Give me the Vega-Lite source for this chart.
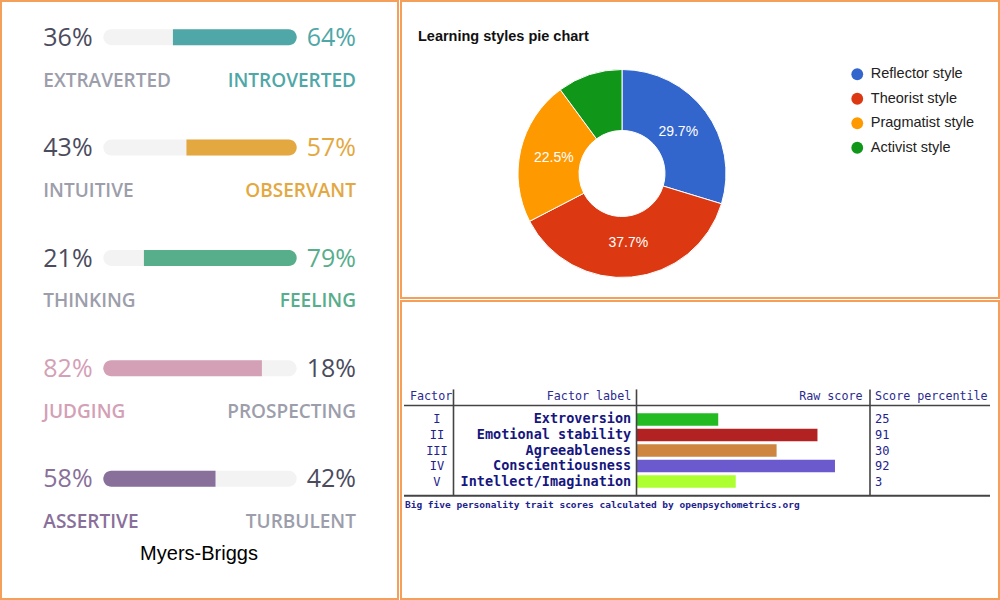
{
  "$schema": "https://vega.github.io/schema/vega-lite/v6.json",
  "padding": 0,
  "background": "white",
  "spacing": 1,
  "resolve": {"scale": {"color": "independent"}},
  "config": {
    "view": {"stroke": "#f5a05a", "strokeWidth": 2},
    "font": "Liberation Sans"
  },
  "hconcat": [
    {
      "width": 397,
      "height": 598,
      "data": {
        "values": [
          {"aspect": "Mind", "left": "EXTRAVERTED", "right": "INTROVERTED", "leftShare": 0.36, "rightShare": 0.64, "winner": "INTROVERTED"},
          {"aspect": "Energy", "left": "INTUITIVE", "right": "OBSERVANT", "leftShare": 0.43, "rightShare": 0.57, "winner": "OBSERVANT"},
          {"aspect": "Nature", "left": "THINKING", "right": "FEELING", "leftShare": 0.21, "rightShare": 0.79, "winner": "FEELING"},
          {"aspect": "Tactics", "left": "JUDGING", "right": "PROSPECTING", "leftShare": 0.82, "rightShare": 0.18, "winner": "JUDGING"},
          {"aspect": "Identity", "left": "ASSERTIVE", "right": "TURBULENT", "leftShare": 0.58, "rightShare": 0.42, "winner": "ASSERTIVE"}
        ]
      },
      "encoding": {
        "y": {
          "field": "aspect",
          "type": "nominal",
          "scale": {"type": "point", "domain": ["Mind", "Energy", "Nature", "Tactics", "Identity"], "range": [36.2, 477.7], "padding": 0},
          "axis": null
        }
      },
      "layer": [
        {
          "mark": {"type": "rule", "strokeWidth": 16, "strokeCap": "round", "color": "#f3f3f3"},
          "encoding": {
            "x": {"datum": 0.0414, "type": "quantitative", "scale": {"domain": [-0.529, 1.5238], "nice": false, "zero": false}, "axis": null},
            "x2": {"datum": 0.9586}
          }
        },
        {
          "transform": [{"filter": "datum.winner === datum.right"}],
          "mark": {"type": "bar", "height": 16, "cornerRadiusTopRight": 8, "cornerRadiusBottomRight": 8},
          "encoding": {
            "x": {"field": "leftShare", "type": "quantitative", "stack": null},
            "x2": {"datum": 1},
            "color": {"field": "winner", "type": "nominal", "scale": {"domain": ["INTROVERTED", "OBSERVANT", "FEELING", "JUDGING", "ASSERTIVE"], "range": ["#4fa7a8", "#e3a83f", "#57ae8b", "#d3a0b6", "#89709a"]}, "legend": null}
          }
        },
        {
          "transform": [{"filter": "datum.winner === datum.left"}],
          "mark": {"type": "bar", "height": 16, "cornerRadiusTopLeft": 8, "cornerRadiusBottomLeft": 8},
          "encoding": {
            "x": {"field": "leftShare", "type": "quantitative", "stack": null},
            "x2": {"datum": 0},
            "color": {"field": "winner", "type": "nominal", "legend": null}
          }
        },
        {
          "transform": [{"filter": "datum.winner === datum.left"}],
          "mark": {"type": "text", "align": "left", "baseline": "alphabetic", "dy": 8.7, "font": "Open Sans", "fontSize": 25},
          "encoding": {
            "x": {"datum": -0.3102, "type": "quantitative"},
            "text": {"field": "leftShare", "type": "quantitative", "format": ".0%"},
            "color": {"field": "winner", "type": "nominal", "legend": null}
          }
        },
        {
          "transform": [{"filter": "datum.winner !== datum.left"}],
          "mark": {"type": "text", "align": "left", "baseline": "alphabetic", "dy": 8.7, "font": "Open Sans", "fontSize": 25, "color": "#4b4b5e"},
          "encoding": {
            "x": {"datum": -0.3102, "type": "quantitative"},
            "text": {"field": "leftShare", "type": "quantitative", "format": ".0%"}
          }
        },
        {
          "transform": [{"filter": "datum.winner === datum.right"}],
          "mark": {"type": "text", "align": "right", "baseline": "alphabetic", "dy": 8.7, "font": "Open Sans", "fontSize": 25},
          "encoding": {
            "x": {"datum": 1.3066, "type": "quantitative"},
            "text": {"field": "rightShare", "type": "quantitative", "format": ".0%"},
            "color": {"field": "winner", "type": "nominal", "legend": null}
          }
        },
        {
          "transform": [{"filter": "datum.winner !== datum.right"}],
          "mark": {"type": "text", "align": "right", "baseline": "alphabetic", "dy": 8.7, "font": "Open Sans", "fontSize": 25, "color": "#4b4b5e"},
          "encoding": {
            "x": {"datum": 1.3066, "type": "quantitative"},
            "text": {"field": "rightShare", "type": "quantitative", "format": ".0%"}
          }
        },
        {
          "transform": [{"filter": "datum.winner === datum.left"}],
          "mark": {"type": "text", "align": "left", "baseline": "alphabetic", "dy": 49.5, "font": "Open Sans", "fontSize": 19, "fontWeight": 600},
          "encoding": {
            "x": {"datum": -0.3102, "type": "quantitative"},
            "text": {"field": "left", "type": "nominal"},
            "color": {"field": "winner", "type": "nominal", "legend": null}
          }
        },
        {
          "transform": [{"filter": "datum.winner !== datum.left"}],
          "mark": {"type": "text", "align": "left", "baseline": "alphabetic", "dy": 49.5, "font": "Open Sans", "fontSize": 19, "fontWeight": 600, "color": "#9c9eab"},
          "encoding": {
            "x": {"datum": -0.3102, "type": "quantitative"},
            "text": {"field": "left", "type": "nominal"}
          }
        },
        {
          "transform": [{"filter": "datum.winner === datum.right"}],
          "mark": {"type": "text", "align": "right", "baseline": "alphabetic", "dy": 49.5, "font": "Open Sans", "fontSize": 19, "fontWeight": 600},
          "encoding": {
            "x": {"datum": 1.3066, "type": "quantitative"},
            "text": {"field": "right", "type": "nominal"},
            "color": {"field": "winner", "type": "nominal", "legend": null}
          }
        },
        {
          "transform": [{"filter": "datum.winner !== datum.right"}],
          "mark": {"type": "text", "align": "right", "baseline": "alphabetic", "dy": 49.5, "font": "Open Sans", "fontSize": 19, "fontWeight": 600, "color": "#9c9eab"},
          "encoding": {
            "x": {"datum": 1.3066, "type": "quantitative"},
            "text": {"field": "right", "type": "nominal"}
          }
        },
        {
          "data": {"values": [{"caption": "Myers-Briggs", "aspect": "Identity"}]},
          "mark": {"type": "text", "align": "center", "baseline": "alphabetic", "dy": 81.3, "font": "Liberation Sans", "fontSize": 20, "color": "#000000"},
          "encoding": {
            "x": {"datum": 0.4948, "type": "quantitative"},
            "text": {"field": "caption", "type": "nominal"}
          }
        }
      ]
    },
    {
      "spacing": 1,
      "resolve": {"scale": {"color": "independent"}},
      "vconcat": [
        {
          "width": 598,
          "height": 297,
          "data": {
            "values": [
              {"style": "Reflector style", "share": 0.297, "slice": 1},
              {"style": "Theorist style", "share": 0.377, "slice": 2},
              {"style": "Pragmatist style", "share": 0.225, "slice": 3},
              {"style": "Activist style", "share": 0.101, "slice": 4}
            ]
          },
          "layer": [
            {
              "mark": {"type": "arc", "innerRadius": 43, "outerRadius": 104, "stroke": "white", "strokeWidth": 1, "xOffset": -78, "yOffset": 24},
              "encoding": {
                "theta": {"field": "share", "type": "quantitative", "stack": true},
                "order": {"field": "slice", "type": "quantitative"},
                "color": {
                  "field": "style",
                  "type": "nominal",
                  "scale": {"domain": ["Reflector style", "Theorist style", "Pragmatist style", "Activist style"], "range": ["#3366cc", "#dc3912", "#ff9900", "#109618"]},
                  "legend": {"orient": "none", "legendX": 449, "legendY": 66, "title": null, "symbolType": "circle", "symbolSize": 140, "symbolStrokeWidth": 0, "symbolOpacity": 1, "labelFontSize": 14.5, "labelFont": "Liberation Sans", "labelColor": "#222222", "rowPadding": 9.5, "labelOffset": 6.3, "padding": 0}
                }
              }
            },
            {
              "mark": {"type": "text", "radius": 70, "xOffset": -78, "yOffset": 24, "fontSize": 14, "font": "Liberation Sans", "color": "white", "baseline": "middle"},
              "encoding": {
                "theta": {"field": "share", "type": "quantitative", "stack": true},
                "order": {"field": "slice", "type": "quantitative"},
                "text": {"field": "share", "type": "quantitative", "format": ".1%"},
                "opacity": {"condition": {"test": "datum.share < 0.15", "value": 0}, "value": 1}
              }
            },
            {
              "data": {"values": [{"title": "Learning styles pie chart"}]},
              "mark": {"type": "text", "align": "left", "baseline": "alphabetic", "fontSize": 14.5, "fontWeight": "bold", "font": "Liberation Sans", "color": "#111111"},
              "encoding": {
                "x": {"datum": 0.0284, "type": "quantitative", "scale": {"domain": [0, 1], "nice": false, "zero": false}, "axis": null},
                "y": {"datum": 0.1347, "type": "quantitative", "scale": {"domain": [0, 1], "reverse": true, "nice": false, "zero": false}, "axis": null},
                "text": {"field": "title", "type": "nominal"}
              }
            }
          ]
        },
        {
          "width": 598,
          "height": 298,
          "data": {
            "values": [
              {"factor": "I", "n": 1, "label": "Extroversion", "raw": 14, "percentile": 25},
              {"factor": "II", "n": 2, "label": "Emotional stability", "raw": 31, "percentile": 91},
              {"factor": "III", "n": 3, "label": "Agreeableness", "raw": 24, "percentile": 30},
              {"factor": "IV", "n": 4, "label": "Conscientiousness", "raw": 34, "percentile": 92},
              {"factor": "V", "n": 5, "label": "Intellect/Imagination", "raw": 17, "percentile": 3}
            ]
          },
          "layer": [
            {
              "mark": {"type": "bar", "orient": "horizontal", "height": 12.5},
              "encoding": {
                "x": {"field": "raw", "type": "quantitative", "stack": null, "scale": {"domain": [-40.343, 62.099], "nice": false, "zero": false}, "axis": null},
                "x2": {"datum": 0},
                "y": {"field": "n", "type": "quantitative", "scale": {"domain": [-6.3056, 12.238], "reverse": true, "nice": false, "zero": false}, "axis": null},
                "color": {"field": "label", "type": "nominal", "scale": {"domain": ["Extroversion", "Emotional stability", "Agreeableness", "Conscientiousness", "Intellect/Imagination"], "range": ["#22bb22", "#b22222", "#cd853f", "#6a5acd", "#adff2f"]}, "legend": null}
              }
            },
            {
              "mark": {"type": "text", "align": "center", "baseline": "middle", "font": "DejaVu Sans Mono", "fontSize": 12, "color": "#22228c"},
              "encoding": {
                "x": {"datum": -34.18, "type": "quantitative"},
                "y": {"field": "n", "type": "quantitative"},
                "text": {"field": "factor", "type": "nominal"}
              }
            },
            {
              "mark": {"type": "text", "align": "right", "baseline": "middle", "font": "DejaVu Sans Mono", "fontSize": 13.5, "fontWeight": "bold", "color": "#16167e"},
              "encoding": {
                "x": {"datum": -0.9, "type": "quantitative"},
                "y": {"field": "n", "type": "quantitative"},
                "text": {"field": "label", "type": "nominal"}
              }
            },
            {
              "mark": {"type": "text", "align": "left", "baseline": "middle", "font": "DejaVu Sans Mono", "fontSize": 12, "color": "#22228c"},
              "encoding": {
                "x": {"datum": 40.86, "type": "quantitative"},
                "y": {"field": "n", "type": "quantitative"},
                "text": {"field": "percentile", "type": "quantitative"}
              }
            },
            {
              "data": {"values": [{"h": "Factor"}]},
              "mark": {"type": "text", "align": "left", "baseline": "middle", "font": "DejaVu Sans Mono", "fontSize": 11.7, "color": "#2a2a90"},
              "encoding": {"x": {"datum": -38.8, "type": "quantitative"}, "y": {"datum": -0.5, "type": "quantitative"}, "text": {"field": "h", "type": "nominal"}}
            },
            {
              "data": {"values": [{"h": "Factor label"}]},
              "mark": {"type": "text", "align": "right", "baseline": "middle", "font": "DejaVu Sans Mono", "fontSize": 11.7, "color": "#2a2a90"},
              "encoding": {"x": {"datum": -0.9, "type": "quantitative"}, "y": {"datum": -0.5, "type": "quantitative"}, "text": {"field": "h", "type": "nominal"}}
            },
            {
              "data": {"values": [{"h": "Raw score"}]},
              "mark": {"type": "text", "align": "right", "baseline": "middle", "font": "DejaVu Sans Mono", "fontSize": 11.7, "color": "#2a2a90"},
              "encoding": {"x": {"datum": 38.72, "type": "quantitative"}, "y": {"datum": -0.5, "type": "quantitative"}, "text": {"field": "h", "type": "nominal"}}
            },
            {
              "data": {"values": [{"h": "Score percentile"}]},
              "mark": {"type": "text", "align": "left", "baseline": "middle", "font": "DejaVu Sans Mono", "fontSize": 11.7, "color": "#2a2a90"},
              "encoding": {"x": {"datum": 40.86, "type": "quantitative"}, "y": {"datum": -0.5, "type": "quantitative"}, "text": {"field": "h", "type": "nominal"}}
            },
            {
              "data": {"values": [{"note": "Big five personality trait scores calculated by openpsychometrics.org"}]},
              "mark": {"type": "text", "align": "left", "baseline": "middle", "font": "DejaVu Sans Mono", "fontSize": 9.5, "fontWeight": "bold", "color": "#22228c"},
              "encoding": {"x": {"datum": -39.66, "type": "quantitative"}, "y": {"datum": 6.495, "type": "quantitative"}, "text": {"field": "note", "type": "nominal"}}
            },
            {
              "data": {"values": [{"line": "header"}]},
              "mark": {"type": "rule", "color": "#444444", "strokeWidth": 1.6},
              "encoding": {"x": {"datum": -39.83, "type": "quantitative"}, "x2": {"datum": 60.56}, "y": {"datum": 0.104, "type": "quantitative"}}
            },
            {
              "data": {"values": [{"line": "footer"}]},
              "mark": {"type": "rule", "color": "#444444", "strokeWidth": 2},
              "encoding": {"x": {"datum": -39.83, "type": "quantitative"}, "x2": {"datum": 60.56}, "y": {"datum": 5.91, "type": "quantitative"}}
            },
            {
              "data": {"values": [{"line": "after factor"}]},
              "mark": {"type": "rule", "color": "#444444", "strokeWidth": 1.6},
              "encoding": {"x": {"datum": -31.35, "type": "quantitative"}, "y": {"datum": -0.935, "type": "quantitative"}, "y2": {"datum": 5.91}}
            },
            {
              "data": {"values": [{"line": "after label"}]},
              "mark": {"type": "rule", "color": "#444444", "strokeWidth": 1.6},
              "encoding": {"x": {"datum": 0, "type": "quantitative"}, "y": {"datum": -0.935, "type": "quantitative"}, "y2": {"datum": 5.91}}
            },
            {
              "data": {"values": [{"line": "after raw"}]},
              "mark": {"type": "rule", "color": "#444444", "strokeWidth": 1.6},
              "encoding": {"x": {"datum": 40, "type": "quantitative"}, "y": {"datum": -0.935, "type": "quantitative"}, "y2": {"datum": 5.91}}
            }
          ]
        }
      ]
    }
  ]
}
